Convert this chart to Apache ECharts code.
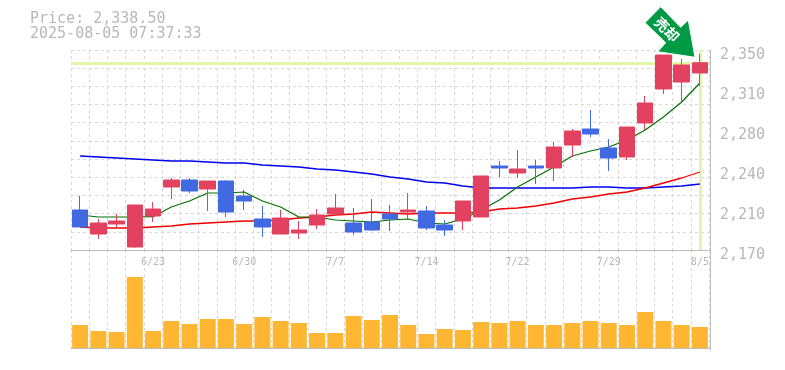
<!DOCTYPE html>
<html>
<head>
<meta charset="utf-8">
<style>
  html, body { margin: 0; padding: 0; background: #fff; }
  #chart { width: 785px; height: 370px; }
</style>
<script src="https://cdn.jsdelivr.net/npm/echarts@6/dist/echarts.min.js"></script>
</head>
<body>
<div id="chart"></div>
<script>
const dates = ['6/17','6/18','6/19','6/20','6/23','6/24','6/25','6/26','6/27','6/30',
  '7/1','7/2','7/3','7/4','7/7','7/8','7/9','7/10','7/11','7/14',
  '7/15','7/16','7/17','7/18','7/22','7/23','7/24','7/25','7/28','7/29',
  '7/30','7/31','8/1','8/4','8/5'];
const tickDates = ['6/23','6/30','7/7','7/14','7/22','7/29','8/5'];
const priceLabels = ['2,170','2,210','2,240','2,280','2,310','2,350'];

// open, close, low, high
const candles = [
  [2206,2190.7,2190.7,2218.6],[2184.4,2194.3,2179.9,2197.9],[2193.4,2196.1,2189.8,2202.4],
  [2172.7,2210.5,2171.8,2210.5],[2200.6,2206.9,2195.2,2213.2],[2226.7,2233,2215.9,2234.8],
  [2233,2223.1,2221.3,2234.8],[2224.9,2232.1,2205.1,2232.1],[2232.1,2204.2,2199.7,2233],
  [2218.6,2214.1,2206,2224],[2197.9,2190.7,2181.7,2209.6],[2184.4,2198.8,2184.4,2206],
  [2185.3,2188,2179.9,2196.1],[2192.5,2201.5,2188.9,2206.9],[2202.4,2207.8,2202.4,2220.4],
  [2194.3,2186.2,2183.5,2207.8],[2195.2,2188,2187.1,2215.9],[2202.4,2197.9,2187.1,2210.5],
  [2204.2,2206,2197.9,2221.3],[2205.1,2189.8,2188,2209.6],[2192.5,2188,2182.6,2197],
  [2196.1,2214.1,2188,2214.1],[2199.7,2236.6,2199.7,2236.6],[2245.6,2243.8,2235.7,2250.1],
  [2239.3,2242.9,2234.8,2260],[2245.6,2243.8,2229.4,2251],[2243.8,2262.7,2232.1,2267.2],
  [2264.5,2277.1,2253.7,2278.9],[2278.9,2274.4,2271.7,2296],[2261.8,2252.8,2241.1,2269.9],
  [2253.7,2280.7,2251,2280.7],[2284.3,2302.3,2278,2308.6],[2314.9,2345.5,2310.4,2345.5],
  [2321.2,2336.5,2303.2,2341.9],[2329.3,2338.5,2317.6,2346.4]
];
const maShort = [2201.5,2199.7,2199.7,2199.7,2200,2208.7,2214.1,2221.3,2221.3,2222.2,
  2214.1,2208.7,2199.7,2199.7,2197,2196.1,2195.2,2197,2197.9,2194.3,
  2193.4,2197.9,2206,2215,2226.7,2235.7,2244.7,2254.6,2259.1,2262.7,
  2269,2278,2289.7,2303.2,2320.3];
const maMid = [2190.7,2189.8,2189.8,2189.8,2190.7,2191.6,2193.4,2194.3,2195.2,2196.1,
  2196.1,2197,2198.8,2199.7,2201.5,2202.4,2204.2,2203.3,2202.4,2203.3,
  2203.3,2203.3,2204.2,2206.9,2207.8,2209.6,2212.3,2215.9,2217.7,2220.4,
  2222.2,2225.8,2230.3,2234.8,2240.2];
const maLong = [2254.6,2253.7,2252.8,2251.9,2251,2250.1,2250.1,2249.2,2248.3,2248.3,
  2246.5,2245.6,2244.7,2242.9,2242,2240.2,2238.4,2235.7,2233.9,2231.2,
  2230.3,2227.6,2225.8,2225.8,2225.8,2225.8,2225.8,2225.8,2226.7,2226.7,
  2225.8,2225.8,2226.7,2227.6,2229.4];
const volumes = [23,17,16,71,17,27,24,29,29,24,31,27,25,15,15,32,28,33,
  23,14,19,18,26,25,27,23,23,25,27,25,23,36,27,23,21];
const lastPrice = 2338.5;
const lastDate = '8/5';
const stamp = '2025-08-05 07:37:33';

const mono = '"DejaVu Sans Mono"';
const frame = '#bdbdbd';
const textColor = '#b8b8b8';
const dash = {color: '#d8d8d8', width: 1, type: [3, 3]};
const highlight = '#e3f5a9';

const maSeries = (data, color, width) => ({
    type: 'line',
    data: data,
    xAxisIndex: 0,
    yAxisIndex: 0,
    symbol: 'none',
    silent: true,
    z: 3,
    lineStyle: {color: color, width: width}
});

const chart = echarts.init(document.getElementById('chart'), null, {renderer: 'canvas'});

chart.setOption({
    animation: false,
    backgroundColor: '#fff',
    title: {
        text: 'Price: 2,338.50\n' + stamp,
        left: 25,
        top: 7,
        textStyle: {fontFamily: mono, fontSize: 15, fontWeight: 'normal', color: textColor, lineHeight: 15}
    },
    grid: [
        {left: 71, width: 638, top: 50, height: 200},
        {left: 71, width: 638, top: 250, height: 100}
    ],
    xAxis: [
        {
            type: 'category',
            gridIndex: 0,
            data: dates,
            axisLine: {lineStyle: {color: frame, width: 1}},
            axisTick: {show: false},
            axisLabel: {
                margin: 7,
                interval: (i, v) => tickDates.includes(v),
                fontFamily: mono,
                fontSize: 10,
                color: textColor
            },
            splitLine: {show: true, interval: 0, lineStyle: dash},
            z: 2
        },
        {
            type: 'category',
            gridIndex: 1,
            data: dates,
            axisLine: {lineStyle: {color: frame, width: 1}},
            axisTick: {show: false},
            axisLabel: {show: false},
            splitLine: {show: true, interval: 0, lineStyle: dash}
        }
    ],
    yAxis: [
        {
            type: 'value',
            gridIndex: 0,
            position: 'right',
            offset: 1,
            min: 2170,
            max: 2350,
            interval: 36,
            axisLine: {show: true, lineStyle: {color: frame, width: 1}},
            axisTick: {show: false},
            axisLabel: {
                margin: 10,
                fontFamily: mono,
                fontSize: 15,
                color: textColor,
                verticalAlign: 'top',
                lineHeight: 10,
                formatter: (v) => priceLabels[Math.round((v - 2170) / 36)]
            },
            splitLine: {show: false}
        },
        {
            // only carries the dashed horizontal rules
            type: 'value',
            gridIndex: 0,
            min: 0,
            max: 11,
            interval: 1,
            axisLine: {show: false},
            axisTick: {show: false},
            axisLabel: {show: false},
            splitLine: {show: true, lineStyle: dash}
        },
        {
            type: 'value',
            gridIndex: 1,
            position: 'right',
            offset: 1,
            min: -2,
            max: 98,
            axisLine: {show: true, lineStyle: {color: frame, width: 1}},
            axisTick: {show: false},
            axisLabel: {show: false},
            splitLine: {show: false}
        }
    ],
    series: [
        {
            // last price cross hair, sits behind everything
            type: 'line',
            data: [],
            xAxisIndex: 0,
            yAxisIndex: 0,
            z: 2,
            silent: true,
            markLine: {
                silent: true,
                z: 2,
                symbol: 'none',
                label: {show: false},
                lineStyle: {color: highlight, width: 3, type: 'solid'},
                data: [{yAxis: lastPrice}, {xAxis: lastDate}]
            }
        },
        maSeries(maLong, '#0000ee', 1.3),
        maSeries(maMid, '#ee0000', 1.3),
        maSeries(maShort, '#007000', 1.2),
        {
            type: 'candlestick',
            data: candles,
            xAxisIndex: 0,
            yAxisIndex: 0,
            barWidth: 16,
            z: 4,
            silent: true,
            itemStyle: {
                color: '#e2425f',
                color0: '#4169e1',
                borderColor: '#e2425f',
                borderColor0: '#4169e1',
                borderWidth: 1
            }
        },
        {
            type: 'bar',
            data: volumes,
            xAxisIndex: 1,
            yAxisIndex: 2,
            barWidth: 16,
            silent: true,
            itemStyle: {color: '#ffb733'}
        }
    ],
    graphic: [
        {
            type: 'polygon',
            z: 100,
            shape: {points: [[660.7, 6.7], [645, 22.7], [665.7, 42.7], [657.7, 51.7], [695, 57.3], [688.3, 20], [680.7, 27.3]]},
            style: {fill: '#009944', stroke: '#fff', lineWidth: 1}
        },
        {
            type: 'text',
            z: 101,
            x: 667,
            y: 29.5,
            rotation: -Math.PI / 4,
            style: {
                text: '売却',
                fill: '#fff',
                font: 'bold 14px "Noto Sans CJK JP"',
                align: 'center',
                verticalAlign: 'middle'
            }
        }
    ]
});
</script>
</body>
</html>
